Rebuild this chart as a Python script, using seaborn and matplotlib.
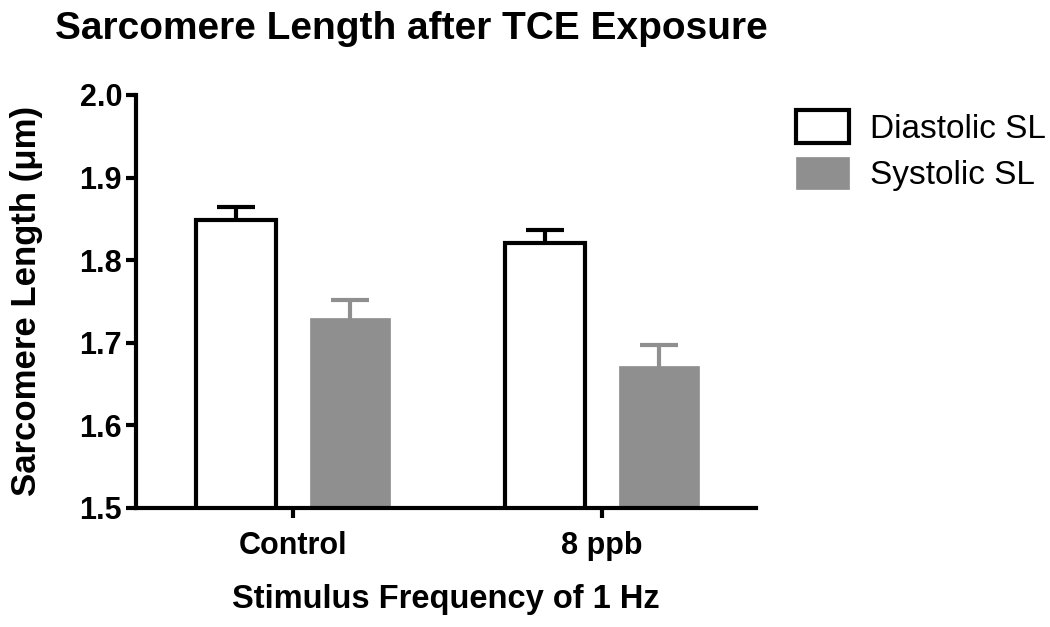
import matplotlib
matplotlib.use("Agg")
import matplotlib.pyplot as plt
import seaborn as sns
import pandas as pd
import numpy as np
from matplotlib.patches import Patch

categories = ["Control", "8 ppb"]
series = ["Diastolic SL", "Systolic SL"]
diastolic = [1.849, 1.821]
systolic = [1.730, 1.672]
diastolic_sem = [0.015, 0.016]
systolic_sem = [0.022, 0.025]
yticks = [1.5, 1.6, 1.7, 1.8, 1.9, 2.0]

df = pd.DataFrame({
    "cat": categories * 2,
    "series": [series[0]] * 2 + [series[1]] * 2,
    "value": diastolic + systolic,
    "sem": diastolic_sem + systolic_sem,
})

sns.set_theme(style="white")
plt.rcParams["font.family"] = ["Liberation Sans", "DejaVu Sans"]
plt.rcParams["text.color"] = "black"
plt.rcParams["axes.labelcolor"] = "black"
plt.rcParams["xtick.color"] = "black"
plt.rcParams["ytick.color"] = "black"

fig = plt.figure(figsize=(10.5, 6.27), dpi=100)
ax = fig.add_axes([0.1295, 0.19, 0.5905, 0.6585])

gray = "#8f8f8f"
sns.barplot(data=df, x="cat", y="value", hue="series", order=categories,
            hue_order=series, palette=["white", gray], errorbar=None,
            width=0.74, gap=0.30, ax=ax, legend=False, saturation=1)

patches = ax.patches[:4]
for i, p in enumerate(patches):
    s = i // 2
    c = i % 2
    if s == 0:
        p.set_edgecolor("black")
        p.set_linewidth(3.0)
        p.set_facecolor("white")
        col = "black"
        err = diastolic_sem[c]
        val = diastolic[c]
    else:
        p.set_edgecolor(gray)
        p.set_linewidth(0.5)
        col = gray
        err = systolic_sem[c]
        val = systolic[c]
    p.set_zorder(2)
    xc = p.get_x() + p.get_width() / 2
    ax.errorbar([xc], [val], yerr=[err], fmt="none", ecolor=col,
                elinewidth=3, capsize=14, capthick=3, zorder=1)

ax.set_ylim(1.5, 2.0)
ax.set_xlim(-0.508, 1.498)
ax.set_yticks(yticks)
ax.set_yticklabels([f"{t:.1f}" for t in yticks], fontsize=22, fontweight="bold")
ax.set_xticks(range(len(categories)))
ax.set_xticklabels(categories, fontsize=22, fontweight="bold")

for side in ["top", "right"]:
    ax.spines[side].set_visible(False)
for side in ["left", "bottom"]:
    ax.spines[side].set_linewidth(3.0)
    ax.spines[side].set_color("black")
ax.tick_params(axis="both", direction="out", length=7, width=3, color="black",
               left=True, bottom=True)
ax.tick_params(axis="x", pad=10)
ax.tick_params(axis="y", pad=3)

ax.set_ylabel("Sarcomere Length (μm)", fontsize=25, fontweight="bold", labelpad=26)
ax.set_xlabel("Stimulus Frequency of 1 Hz", fontsize=23.5, fontweight="bold", labelpad=16)
fig.text(0.052, 0.954, "Sarcomere Length after TCE Exposure", fontsize=28,
         fontweight="bold", ha="left", va="center")

handles = [Patch(facecolor="white", edgecolor="black", linewidth=3, label=series[0]),
           Patch(facecolor=gray, edgecolor=gray, linewidth=0.5, label=series[1])]
fig.legend(handles=handles, loc="upper left", bbox_to_anchor=(0.758, 0.824),
           frameon=False, fontsize=24, handlelength=1.6, handleheight=1.12,
           handletextpad=0.63, labelspacing=0.36, borderpad=0, borderaxespad=0)

fig.savefig("out.png", dpi=100)
